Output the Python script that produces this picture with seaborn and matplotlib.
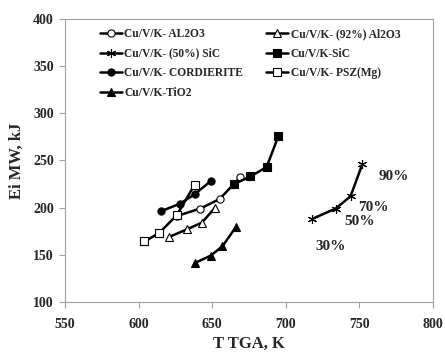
import matplotlib
matplotlib.use("Agg")
import matplotlib.pyplot as plt
import seaborn as sns
import pandas as pd

sns.set_theme(style="white")
plt.rcParams['font.family'] = ['Liberation Serif', 'DejaVu Serif']
plt.rcParams['font.weight'] = 'bold'

al2o3_x = [626, 642, 655, 669]
al2o3_y = [191, 199, 209, 232]
al92_x = [621, 633, 643, 652]
al92_y = [169, 177, 184, 200]
sic50_x = [718, 734, 744, 752]
sic50_y = [188, 199, 212, 246]
sic_x = [665, 676, 687, 695]
sic_y = [225, 233, 243, 276]
cord_x = [615, 628, 638, 649]
cord_y = [196, 204, 214, 228]
psz_x = [604, 614, 626, 638]
psz_y = [164, 173, 192, 224]
tio2_x = [638, 649, 657, 666]
tio2_y = [141, 149, 159, 179]

pct_labels = ["30%", "50%", "70%", "90%"]
pct_x = [720, 740, 749, 763]
pct_y = [159, 185, 200, 233]

series = [
    ("Cu/V/K- AL2O3", al2o3_x, al2o3_y, "o", "white"),
    ("Cu/V/K- (92%) Al2O3", al92_x, al92_y, "^", "white"),
    ("Cu/V/K- (50%) SiC", sic50_x, sic50_y, (6, 2, 0), "black"),
    ("Cu/V/K-SiC", sic_x, sic_y, "s", "black"),
    ("Cu/V/K- CORDIERITE", cord_x, cord_y, "o", "black"),
    ("Cu/V/K- PSZ(Mg)", psz_x, psz_y, "s", "white"),
    ("Cu/V/K-TiO2", tio2_x, tio2_y, "^", "black"),
]

fig = plt.figure(figsize=(4.45, 3.53), dpi=100)
ax = fig.add_axes([0.146, 0.145, 0.827, 0.801])

for name, xs, ys, mk, fc in series:
    df = pd.DataFrame({"x": xs, "y": ys})
    sns.lineplot(data=df, x="x", y="y", ax=ax, color="black", lw=1.8,
                 marker=mk, markersize=5.2 if mk != (6, 2, 0) else 6.5,
                 markerfacecolor=fc, markeredgecolor="black",
                 markeredgewidth=0.8, label=name, sort=False)

for t, x, y in zip(pct_labels, pct_x, pct_y):
    ax.text(x, y, t, fontsize=11, fontweight='bold', ha='left', va='center')

ax.set_xlim(550, 800)
ax.set_ylim(100, 400)
ax.set_xticks([550, 600, 650, 700, 750, 800])
ax.set_yticks([100, 150, 200, 250, 300, 350, 400])
ax.tick_params(axis='both', direction='out', length=4, width=0.8, color='#a0a0a0',
               labelsize=10, bottom=True, left=True)
ax.tick_params(axis='x', pad=8)
ax.tick_params(axis='y', pad=4)
for lab in ax.get_xticklabels() + ax.get_yticklabels():
    lab.set_fontweight('bold')
for s in ax.spines.values():
    s.set_color('#a0a0a0')
    s.set_linewidth(0.8)

ax.set_xlabel("T TGA, K", fontsize=12, fontweight='bold', labelpad=3)
ax.set_ylabel("Ei MW, kJ", fontsize=12, fontweight='bold', labelpad=6)

handles, labels = ax.get_legend_handles_labels()
order = [0, 2, 4, 6, 1, 3, 5]
leg = ax.legend([handles[i] for i in order], [labels[i] for i in order],
                ncol=2, frameon=False, loc='upper left', bbox_to_anchor=(0.074, 0.997),
                fontsize=8.3, handlelength=1.9, handletextpad=0.2,
                columnspacing=2.0, labelspacing=0.66, borderaxespad=0.3)
for t in leg.get_texts():
    t.set_fontweight('bold')

fig.savefig("out.png", dpi=100)
